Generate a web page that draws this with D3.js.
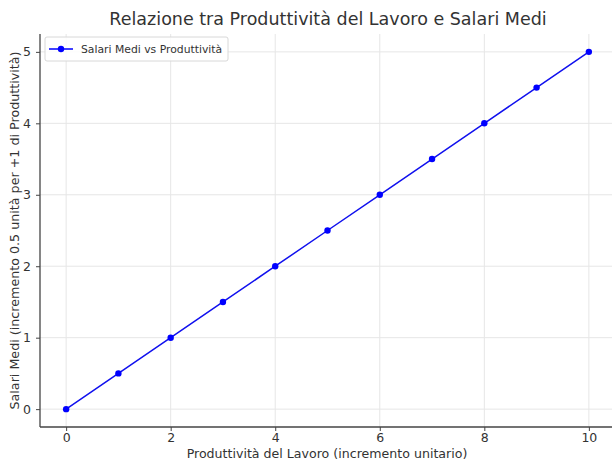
<!DOCTYPE html>
<html>
<head>
<meta charset="utf-8">
<style>
    body { margin: 0; background: white; }
    text { font-family: "DejaVu Sans", sans-serif; fill: #333; }
</style>
<script src="https://cdn.jsdelivr.net/npm/d3@7"></script>
</head>
<body>
<div id="chart"></div>
<script>
    var produttivita = [0, 1, 2, 3, 4, 5, 6, 7, 8, 9, 10];
    var salari = [0, 0.5, 1, 1.5, 2, 2.5, 3, 3.5, 4, 4.5, 5];
    var xTicks = [0, 2, 4, 6, 8, 10];
    var yTicks = [0, 1, 2, 3, 4, 5];

    var width = 612, height = 460;
    var m = { left: 40, right: -3, top: 34, bottom: 33 };

    var svg = d3.select('#chart').append('svg')
        .attr('width', width)
        .attr('height', height);

    var x = d3.scaleLinear().domain([-0.5, 10.5]).range([m.left, width - m.right]);
    var y = d3.scaleLinear().domain([-0.25, 5.25]).range([height - m.bottom, m.top]);

    // grid
    svg.append('g').selectAll('line').data(xTicks).enter().append('line')
        .attr('x1', d => x(d)).attr('x2', d => x(d))
        .attr('y1', y(-0.25)).attr('y2', y(5.25))
        .attr('stroke', '#e6e6e6').attr('stroke-width', 1);
    svg.append('g').selectAll('line').data(yTicks).enter().append('line')
        .attr('x1', x(-0.5)).attr('x2', width)
        .attr('y1', d => y(d)).attr('y2', d => y(d))
        .attr('stroke', '#e6e6e6').attr('stroke-width', 1);

    // axes
    var xAxis = svg.append('g')
        .attr('transform', 'translate(0,' + (height - m.bottom) + ')')
        .call(d3.axisBottom(x).tickValues(xTicks).tickFormat(d3.format('d')).tickSize(4).tickPadding(2));
    var yAxis = svg.append('g')
        .attr('transform', 'translate(' + m.left + ',0)')
        .call(d3.axisLeft(y).tickValues(yTicks).tickFormat(d3.format('d')).tickSize(4).tickPadding(5));
    [xAxis, yAxis].forEach(function(a) {
        a.select('.domain').attr('stroke', '#444').attr('stroke-width', 1.3);
        a.selectAll('.tick line').attr('stroke', '#444');
        a.selectAll('.tick text').style('font-size', '12.5px').attr('fill', '#333');
    });
    // remove the domain end caps so only the spine stays
    xAxis.select('.domain').attr('d', 'M' + m.left + ',0H' + width);
    yAxis.select('.domain').attr('d', 'M0,' + y(-0.25) + 'V' + m.top);

    // line + points
    var pts = produttivita.map((d, i) => [d, salari[i]]);
    svg.append('path')
        .datum(pts)
        .attr('fill', 'none')
        .attr('stroke', '#1010ee')
        .attr('stroke-width', 1.5)
        .attr('d', d3.line().x(d => x(d[0])).y(d => y(d[1])));
    svg.append('g').selectAll('circle').data(pts).enter().append('circle')
        .attr('cx', d => x(d[0]))
        .attr('cy', d => y(d[1]))
        .attr('r', 3.2)
        .attr('fill', '#0000ff');

    // title and labels
    svg.append('text')
        .attr('x', 328).attr('y', 25)
        .attr('text-anchor', 'middle')
        .style('font-size', '17.5px')
        .text('Relazione tra Produttività del Lavoro e Salari Medi');
    svg.append('text')
        .attr('x', 327).attr('y', 458)
        .attr('text-anchor', 'middle')
        .style('font-size', '12.6px')
        .text('Produttività del Lavoro (incremento unitario)');
    svg.append('text')
        .attr('transform', 'translate(19,' + y(2.5) + ') rotate(-90)')
        .attr('text-anchor', 'middle')
        .style('font-size', '12.7px')
        .text('Salari Medi (incremento 0.5 unità per +1 di Produttività)');

    // legend
    var lg = svg.append('g').attr('transform', 'translate(45,37)');
    lg.append('rect')
        .attr('width', 183).attr('height', 24).attr('rx', 2)
        .attr('fill', 'white').attr('fill-opacity', 0.85)
        .attr('stroke', '#d8d8d8');
    lg.append('line')
        .attr('x1', 4).attr('x2', 28).attr('y1', 12).attr('y2', 12)
        .attr('stroke', '#0000ff').attr('stroke-width', 1.5);
    lg.append('circle').attr('cx', 16).attr('cy', 12).attr('r', 3.2).attr('fill', '#0000ff');
    lg.append('text')
        .attr('x', 36).attr('y', 16)
        .style('font-size', '10.8px')
        .text('Salari Medi vs Produttività');
</script>
</body>
</html>
